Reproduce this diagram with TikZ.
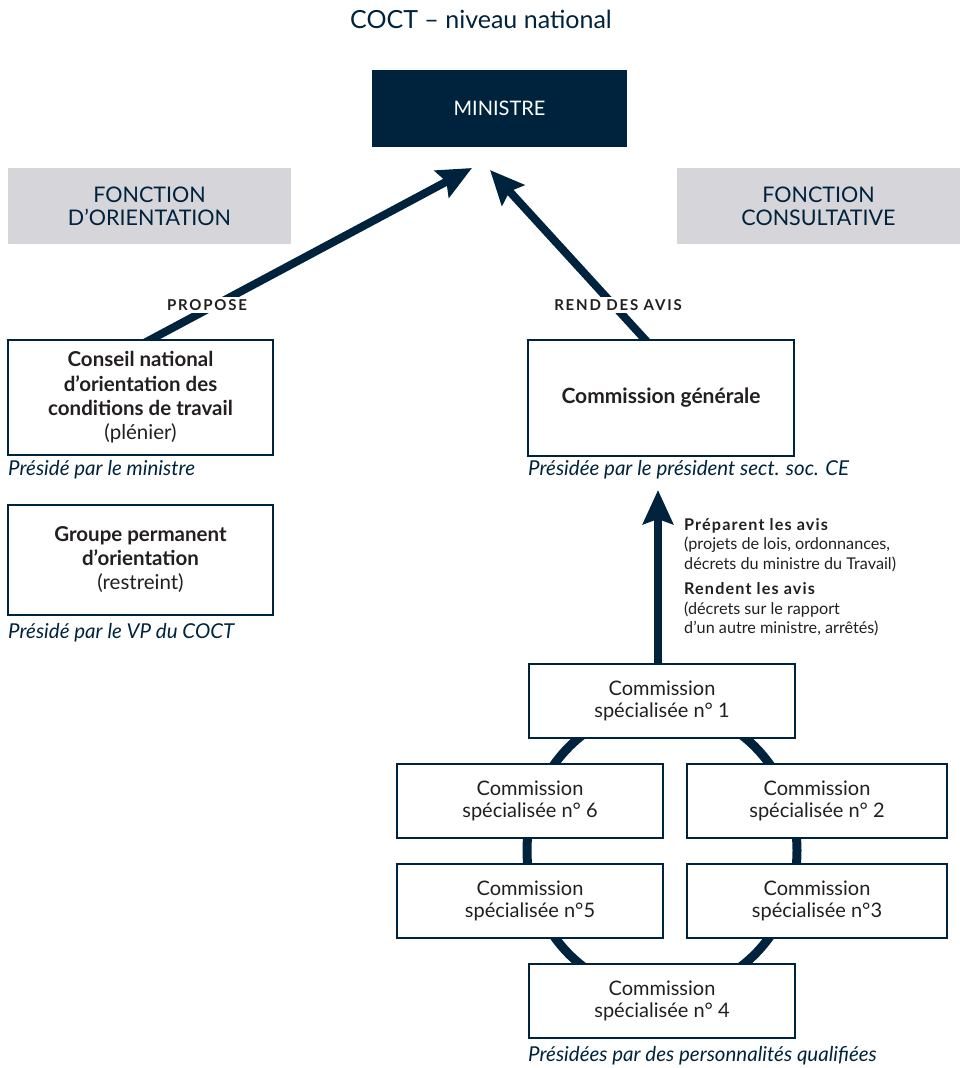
\documentclass[tikz,border=0pt]{standalone}
\usepackage{fontspec}
\setmainfont{Lato}
\usetikzlibrary{arrows.meta, positioning, backgrounds}
\definecolor{navy}{HTML}{00233D}
\definecolor{panel}{HTML}{D5D5DA}
\definecolor{ink}{HTML}{231F20}
\newcommand{\csbox}[4]{%
  \node[csbox, minimum width=#3] (#1) at (#2) {Commission\\spécialisée #4};}
\newcommand{\chair}[3]{%
  \node[chair] (#1) at (#2) {#3};}
\newcommand{\heavy}[1]{{\bfseries\addfontfeatures{LetterSpace=7}#1}}

\begin{document}
\begin{tikzpicture}[x=1pt, y=-1pt,
  every node/.style={font=\fontsize{20}{22}\selectfont},
  box/.style={draw=navy, line width=2pt, fill=white, text=ink, align=center,
    inner sep=0pt, minimum width=265pt},
  csbox/.style={box, minimum height=74pt},
  panelbox/.style={fill=panel, text=navy, align=center, minimum width=283pt,
    minimum height=76pt, font=\fontsize{21.5}{23}\selectfont},
  chair/.style={anchor=west, text=navy, inner sep=0pt, font=\fontsize{20.5}{22}\itshape},
  tag/.style={fill=white, text=ink, inner sep=2pt,
    font=\fontsize{15}{16}\bfseries\addfontfeatures{LetterSpace=12}},
  bigarrow/.style={navy, line width=8pt, -{Stealth[length=34pt, width=30pt, inset=5pt]}}]
\useasboundingbox (0,0) rectangle (961,1068);
% title and minister
\node[text=navy, font=\fontsize{25}{26}\selectfont] (title) at (481,19) {COCT -- niveau national};
\node[fill=navy, text=white, minimum width=255pt, minimum height=77pt,
  font=\fontsize{20}{22}\selectfont] (ministre) at (499.5,108.5) {MINISTRE};
\node[panelbox] (orient) at (149.5,206) {FONCTION\\D’ORIENTATION};
\node[panelbox] (consult) at (818.5,206) {FONCTION\\CONSULTATIVE};
% left column
\node[box, minimum height=115pt, font=\fontsize{20.5}{24.3}\selectfont] (conseil) at (140.5,397.5)
  {\textbf{Conseil national}\\\textbf{d’orientation des}\\\textbf{conditions de travail}\\(plénier)};
\chair{chairConseil}{8,470}{Présidé par le ministre}
\node[box, minimum height=110pt, font=\fontsize{20.5}{24}\selectfont] (groupe) at (140.5,560)
  {\textbf{Groupe permanent}\\\textbf{d’orientation}\\(restreint)};
\chair{chairGroupe}{8,633}{Présidé par le VP du COCT}
% right column
\node[box, minimum width=266pt, minimum height=116pt, font=\fontsize{21}{24}\bfseries] (generale)
  at (661,398) {Commission générale};
\chair{chairGenerale}{528,470}{Présidée par le président sect. soc. CE}
\node[anchor=north west, align=left, text=ink, inner sep=0pt,
  font=\fontsize{16.2}{19.5}\selectfont] (avis) at (684,518)
  {\heavy{Préparent les avis}\\(projets de lois, ordonnances,\\décrets du ministre du Travail)\\[6pt]
   \heavy{Rendent les avis}\\(décrets sur le rapport\\d’un autre ministre, arrêtés)};
% ring of specialised commissions
\coordinate (ringc) at (662,850.5);
\draw[navy, line width=9pt] (ringc) ellipse [x radius=135, y radius=143];
\csbox{cs1}{662,700.5}{266pt}{n° 1}
\csbox{cs6}{530,800.5}{266pt}{n° 6}
\csbox{cs5}{530,900.5}{266pt}{n°5}
\csbox{cs2}{817,800.5}{260pt}{n° 2}
\csbox{cs3}{817,900.5}{260pt}{n°3}
\csbox{cs4}{662,1000.5}{266pt}{n° 4}
\chair{chairCS}{528,1056}{Présidées par des personnalités qualifiées}
% arrows
\coordinate (tipO) at (472,168);
\coordinate (tipC) at (490,170);
\coordinate (tipG) at (658,490);
\begin{scope}[on background layer]
\draw[bigarrow] ([yshift=-6pt]conseil.north) -- (tipO);
\draw[bigarrow] ([xshift=-11pt, yshift=-6pt]generale.north) -- (tipC);
\draw[bigarrow] ([yshift=-6pt]cs1.north -| tipG) -- (tipG);
\end{scope}
\node[tag] (propose) at (207,305) {PROPOSE};
\node[tag] (rendavis) at (618,305) {REND DES AVIS};
\end{tikzpicture}
\end{document}
